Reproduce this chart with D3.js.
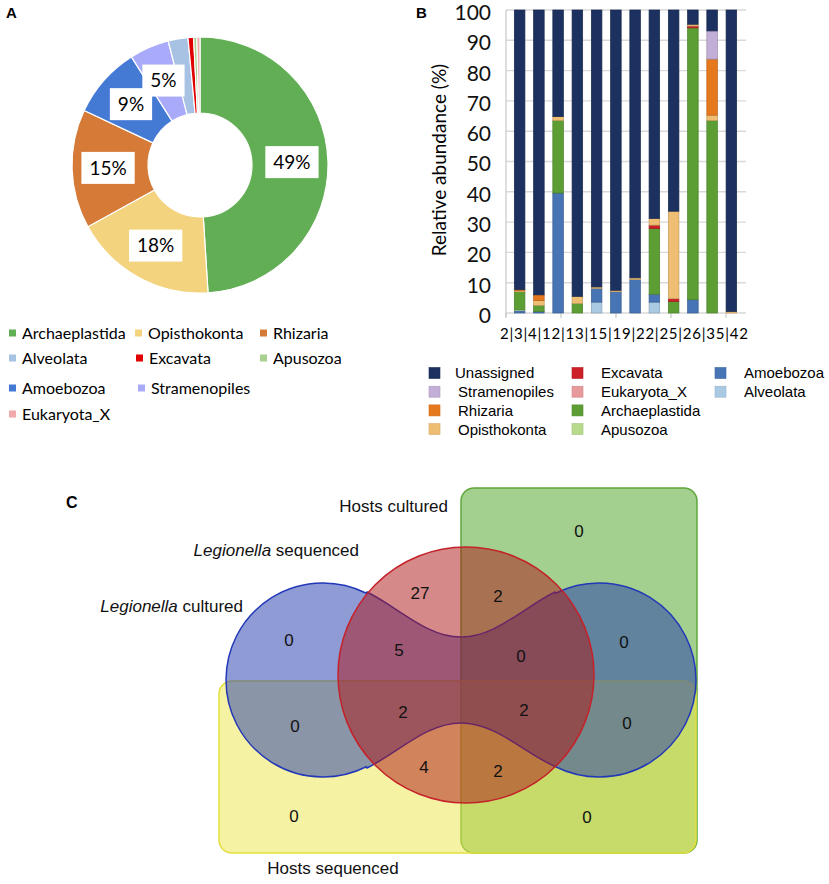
<!DOCTYPE html>
<html>
<head>
<meta charset="utf-8">
<script src="https://cdn.jsdelivr.net/npm/d3@7"></script>
<style>
body { margin: 0; background: #fff; }
svg { display: block; }
</style>
</head>
<body>
<svg width="829" height="884"></svg>
<script>
// ---- panel A data
var pieGroups = ['Archaeplastida', 'Opisthokonta', 'Rhizaria', 'Amoebozoa', 'Stramenopiles',
  'Alveolata', 'Excavata', 'Apusozoa', 'Eukaryota_X'];
var pieShares = [49, 18, 15, 9, 5, 2.5, 0.7, 0.4, 0.4];
var pieLegendOrder = ['Archaeplastida', 'Opisthokonta', 'Rhizaria', 'Alveolata', 'Excavata',
  'Apusozoa', 'Amoebozoa', 'Stramenopiles', 'Eukaryota_X'];

// ---- panel B data
var samples = ['2', '3', '4', '12', '13', '15', '19', '22', '25', '26', '35', '42'];
var alveolata =      [0, 0, 0, 0, 3.6, 0, 0, 3.6, 0, 0, 0, 0];
var amoebozoa =      [0.8, 0.5, 39.6, 0, 4.5, 7.0, 11.0, 2.6, 0, 4.4, 0, 0];
var apusozoa =       [0.4, 0, 0, 0, 0, 0, 0, 0, 0, 0, 0, 0];
var archaeplastida = [5.8, 2.0, 23.9, 3.1, 0, 0, 0, 21.7, 3.8, 89.7, 63.5, 0];
var eukaryotaX =     [0, 0, 0, 0, 0, 0, 0, 0, 0, 0, 0, 0];
var excavata =       [0, 0, 0, 0, 0, 0, 0, 1.1, 0.9, 0.6, 0, 0];
var opisthokonta =   [0.4, 1.6, 1.3, 2.4, 0.5, 0.5, 0.6, 2.2, 28.9, 0.6, 1.8, 0.5];
var rhizaria =       [0.4, 1.9, 0, 0, 0, 0, 0, 0, 0, 0, 18.5, 0];
var stramenopiles =  [0, 0, 0, 0, 0, 0, 0, 0, 0, 0, 9.3, 0];
var unassigned =     [92.2, 94.0, 35.2, 94.5, 91.4, 92.5, 88.4, 68.8, 66.4, 4.7, 6.9, 99.5];
var yTicks = [0, 10, 20, 30, 40, 50, 60, 70, 80, 90, 100];

// ---- panel C data
var vennSets = ['Legionella cultured', 'Legionella sequenced', 'Hosts cultured', 'Hosts sequenced'];
var vennRegions = ['LC', 'LS', 'HC', 'HS', 'LC&LS', 'LS&HC', 'LC&HC', 'LC&HS', 'LS&HS', 'HC&HS',
  'LC&LS&HC', 'LC&LS&HS', 'LS&HC&HS', 'LC&HC&HS', 'LC&LS&HC&HS'];
var vennCounts = [0, 27, 0, 0, 5, 2, 0, 0, 4, 0, 0, 2, 2, 0, 2];

var svg = d3.select('svg');

// ================= A =================
var pieColor = {
  Archaeplastida: '#62ae55', Opisthokonta: '#f3d37d', Rhizaria: '#d67a38',
  Amoebozoa: '#447ad4', Stramenopiles: '#aaaafa', Alveolata: '#a8c2e4',
  Excavata: '#e10000', Apusozoa: '#a9d08e', Eukaryota_X: '#f0aaaa'
};

svg.append('text').attr('x', 6).attr('y', 18)
  .style('font', 'bold 15px "Liberation Sans", Arial, sans-serif').text('A');

var gA = svg.append('g').attr('transform', 'translate(200,165)');
var pieData = pieGroups.map(function(g, i) { return {name: g, share: pieShares[i]}; });
var pie = d3.pie().sort(null).value(function(d) { return d.share; });
var arc = d3.arc().innerRadius(52).outerRadius(128);
var labelArc = d3.arc().innerRadius(92).outerRadius(92);

gA.selectAll('path')
  .data(pie(pieData))
  .enter()
  .append('path')
  .attr('d', arc)
  .attr('fill', function(d) { return pieColor[d.data.name]; })
  .attr('stroke', '#fff')
  .attr('stroke-width', 1.2);

var lab = gA.selectAll('.lab')
  .data(pie(pieData).filter(function(d) { return d.data.share >= 5; }))
  .enter()
  .append('g')
  .attr('class', 'lab')
  .attr('transform', function(d) { return 'translate(' + labelArc.centroid(d) + ')'; });

lab.append('text')
  .attr('text-anchor', 'middle')
  .attr('dy', '0.36em')
  .style('font', '19px Lato, sans-serif')
  .text(function(d) { return d.data.share + '%'; });

lab.each(function() {
  var bb = d3.select(this).select('text').node().getBBox();
  d3.select(this).insert('rect', 'text')
    .attr('x', bb.x - 8).attr('y', -16)
    .attr('width', bb.width + 16).attr('height', 32)
    .attr('fill', '#fff');
});

// legend A
var legA = [[9, 333], [135, 333], [260, 333], [9, 358], [136, 358], [260, 358], [9, 388], [138, 388], [9, 414]];
var la = svg.selectAll('.legA')
  .data(pieLegendOrder)
  .enter()
  .append('g')
  .attr('class', 'legA')
  .attr('transform', function(d, i) { return 'translate(' + legA[i][0] + ',' + legA[i][1] + ')'; });
la.append('rect').attr('x', 0).attr('y', -3.5).attr('width', 7).attr('height', 7)
  .attr('fill', function(d) { return pieColor[d]; });
la.append('text').attr('x', 13).attr('dy', '0.36em')
  .style('font', '16px Lato, sans-serif').text(function(d) { return d; });

// ================= B =================
var barColor = {
  Unassigned: '#1d3160', Stramenopiles: '#c2aed6', Rhizaria: '#e6781e',
  Opisthokonta: '#efbe73', Excavata: '#cc1f28', Eukaryota_X: '#e8999b',
  Archaeplastida: '#5c9e34', Apusozoa: '#b7da8c', Amoebozoa: '#4674b4',
  Alveolata: '#aac9e3'
};
var series = {
  Alveolata: alveolata, Amoebozoa: amoebozoa, Apusozoa: apusozoa,
  Archaeplastida: archaeplastida, Eukaryota_X: eukaryotaX, Excavata: excavata,
  Opisthokonta: opisthokonta, Rhizaria: rhizaria, Stramenopiles: stramenopiles,
  Unassigned: unassigned
};
var stackKeys = Object.keys(series);
var rows = samples.map(function(s, i) {
  var r = {sample: s};
  stackKeys.forEach(function(k) { r[k] = series[k][i]; });
  return r;
});

var x = d3.scaleBand().domain(samples).range([510, 741]).paddingInner(0.45).paddingOuter(0.225);
var y = d3.scaleLinear().domain([0, 100]).range([313, 10]);

svg.append('text').attr('x', 416).attr('y', 18)
  .style('font', 'bold 15px "Liberation Sans", Arial, sans-serif').text('B');

var gB = svg.append('g');
gB.selectAll('.grid')
  .data(yTicks)
  .enter()
  .append('line')
  .attr('class', 'grid')
  .attr('x1', 506).attr('x2', 746)
  .attr('y1', function(d) { return y(d); })
  .attr('y2', function(d) { return y(d); })
  .attr('stroke', '#d9d9d9')
  .attr('stroke-width', 1.4);

gB.append('line').attr('x1', 506).attr('x2', 506).attr('y1', y(100)).attr('y2', y(0) + 4)
  .attr('stroke', '#c8c8c8').attr('stroke-width', 1.2);

var xTickScale = d3.scaleLinear().domain([0, 4]).range([506, 726]);
gB.selectAll('.xt')
  .data([0, 1, 2, 3, 4])
  .enter()
  .append('line')
  .attr('x1', function(d) { return xTickScale(d); })
  .attr('x2', function(d) { return xTickScale(d); })
  .attr('y1', y(0)).attr('y2', y(0) + 5)
  .attr('stroke', '#c8c8c8').attr('stroke-width', 1.2);

gB.append('g')
  .attr('transform', 'translate(506,0)')
  .call(d3.axisLeft(y).tickValues(yTicks).tickSize(0).tickPadding(15))
  .call(function(g) { g.select('.domain').remove(); })
  .selectAll('text')
  .attr('dy', '0.45em')
  .style('font', '21px Lato, sans-serif')
  .attr('fill', '#111');

gB.append('text')
  .attr('transform', 'translate(446,160) rotate(-90)')
  .attr('text-anchor', 'middle')
  .style('font', '19px Lato, sans-serif')
  .text('Relative abundance (%)');

gB.append('text')
  .attr('x', 624).attr('y', 339)
  .attr('text-anchor', 'middle')
  .attr('textLength', 248)
  .style('font', '15px Lato, sans-serif')
  .text(samples.join('|'));

var layer = gB.selectAll('.layer')
  .data(d3.stack().keys(stackKeys)(rows))
  .enter()
  .append('g')
  .attr('class', 'layer')
  .attr('fill', function(d) { return barColor[d.key]; })
  .attr('stroke', function(d) { return d3.color(barColor[d.key]).darker(0.6); });

layer.selectAll('rect')
  .data(function(d) { return d.filter(function(e) { return e[1] - e[0] > 0; }); })
  .enter()
  .append('rect')
  .attr('x', function(d) { return x(d.data.sample); })
  .attr('width', x.bandwidth())
  .attr('y', function(d) { return y(d[1]); })
  .attr('height', function(d) { return y(d[0]) - y(d[1]); })
  .attr('stroke-width', 0.7);

// legend B
var legOrder = stackKeys.slice().reverse();
var lb = svg.selectAll('.legB')
  .data(legOrder)
  .enter()
  .append('g')
  .attr('class', 'legB')
  .attr('transform', function(d, i) {
    return 'translate(' + (429 + Math.floor(i / 4) * 143) + ',' + (373 + (i % 4) * 18.7) + ')';
  });
lb.append('rect').attr('y', -5.5).attr('width', 11).attr('height', 11)
  .attr('fill', function(d) { return barColor[d]; })
  .attr('stroke', function(d) { return d3.color(barColor[d]).darker(0.3); })
  .attr('stroke-width', 0.6);
lb.append('text').attr('x', function(d, i) { return i == 0 ? 26 : 29; }).attr('dy', '0.36em')
  .style('font', '15px "Liberation Sans", Arial, sans-serif').text(function(d) { return d; });

// ================= C =================
var venn = {cx: 461, cy: 680, lobeDx: 138, lobeR: 97, wave: 43, redCx: 466, redCy: 675, redR: 128};

svg.append('text').attr('x', 66).attr('y', 508)
  .style('font', 'bold 16px "Liberation Sans", Arial, sans-serif').text('C');

var gC = svg.append('g');

gC.append('rect')  // hosts cultured
  .attr('x', 461).attr('y', 488).attr('width', 236).attr('height', 365).attr('rx', 13)
  .attr('fill', '#47a01f').attr('fill-opacity', 0.5)
  .attr('stroke', '#5fa83a').attr('stroke-width', 1.5);

gC.append('rect')  // hosts sequenced
  .attr('x', 219).attr('y', 681).attr('width', 477).attr('height', 172).attr('rx', 13)
  .attr('fill', '#ebe747').attr('fill-opacity', 0.5)
  .attr('stroke', '#e2df3c').attr('stroke-width', 1.5);

// legionella cultured: two lobes joined by a wavy band
var lx = venn.cx - venn.lobeDx, rx = venn.cx + venn.lobeDx, lr = venn.lobeR;
var jx = 44, jy = 88;
var waveTop = venn.cy - venn.wave, waveBot = venn.cy + venn.wave;
var p = d3.path();
p.moveTo(lx + jx, venn.cy - jy);
p.bezierCurveTo(lx + jx + 31, venn.cy - jy + 15, venn.cx - 35, waveTop, venn.cx, waveTop);
p.bezierCurveTo(venn.cx + 35, waveTop, rx - jx - 31, venn.cy - jy + 15, rx - jx, venn.cy - jy);
p.arc(rx, venn.cy, lr, Math.atan2(-jy, -jx), Math.atan2(jy, -jx), false);
p.bezierCurveTo(rx - jx - 31, venn.cy + jy - 15, venn.cx + 35, waveBot, venn.cx, waveBot);
p.bezierCurveTo(venn.cx - 35, waveBot, lx + jx + 31, venn.cy + jy - 15, lx + jx, venn.cy + jy);
p.arc(lx, venn.cy, lr, Math.atan2(jy, jx), Math.atan2(-jy, jx) + 2 * Math.PI, false);
p.closePath();

gC.append('path')
  .attr('d', p.toString())
  .attr('fill', '#1f37ab').attr('fill-opacity', 0.5)
  .attr('stroke', '#2338b8').attr('stroke-width', 1.5);

gC.append('circle')  // legionella sequenced
  .attr('cx', venn.redCx).attr('cy', venn.redCy).attr('r', venn.redR)
  .attr('fill', '#ad1313').attr('fill-opacity', 0.5)
  .attr('stroke', '#c4222a').attr('stroke-width', 1.5);

var vennLabelPos = [[289, 640], [420, 593], [579, 531], [294, 816], [399, 650], [498, 596], [624, 642],
  [295, 726], [424, 767], [587, 817], [521, 656], [403, 712], [498, 771], [627, 723], [524, 710]];

gC.selectAll('.cnt')
  .data(vennCounts)
  .enter()
  .append('text')
  .attr('class', 'cnt')
  .attr('x', function(d, i) { return vennLabelPos[i][0]; })
  .attr('y', function(d, i) { return vennLabelPos[i][1]; })
  .attr('dy', '0.36em')
  .attr('text-anchor', 'middle')
  .style('font', '17px "Liberation Sans", Arial, sans-serif')
  .attr('fill', '#111')
  .text(function(d) { return d; });

var setLabelPos = [[243, 606, 'end'], [359, 550, 'end'], [448, 506, 'end'], [333, 868, 'middle']];
var setText = gC.selectAll('.setlab')
  .data(vennSets)
  .enter()
  .append('text')
  .attr('class', 'setlab')
  .attr('x', function(d, i) { return setLabelPos[i][0]; })
  .attr('y', function(d, i) { return setLabelPos[i][1]; })
  .attr('dy', '0.36em')
  .attr('text-anchor', function(d, i) { return setLabelPos[i][2]; })
  .style('font', '17px "Liberation Sans", Arial, sans-serif')
  .attr('fill', '#111');

setText.each(function(d) {
  var t = d3.select(this);
  if (d.indexOf('Legionella') == 0) {
    t.append('tspan').style('font-style', 'italic').text('Legionella');
    t.append('tspan').text(d.slice(10));
  } else {
    t.text(d);
  }
});
</script>
</body>
</html>
